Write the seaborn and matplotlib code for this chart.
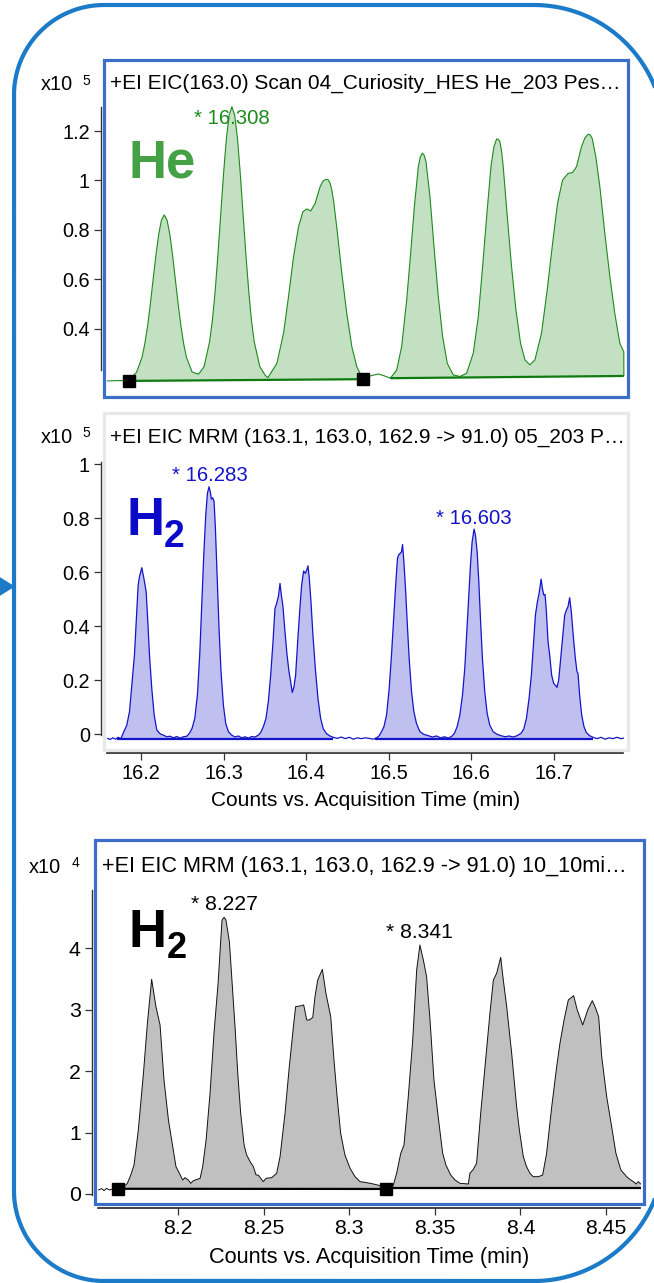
import numpy as np
import matplotlib
matplotlib.use("Agg")
import matplotlib.pyplot as plt
from matplotlib.patches import Rectangle, Polygon, PathPatch
from matplotlib.path import Path
import seaborn as sns

# ---------------- data ----------------
# panel 1: He carrier, EIC 163.0, counts x10^5
he_time = [16.157, 16.170, 16.180,
           16.1855, 16.1923, 16.199, 16.2024, 16.2058, 16.2091, 16.2125, 16.2159, 16.2193, 16.2226, 16.226,
           16.2294, 16.2328, 16.2361, 16.2395, 16.2429, 16.2463, 16.2496, 16.253, 16.2598,
           16.2675, 16.2743, 16.281, 16.2844, 16.2878, 16.2911, 16.2945, 16.2979, 16.3013, 16.3046, 16.308,
           16.3114, 16.3148, 16.3181, 16.3215, 16.3249, 16.3283, 16.3316, 16.335, 16.3418, 16.3485,
           16.3516, 16.3625, 16.3706, 16.3766, 16.3827, 16.3887, 16.3940, 16.3988, 16.4036, 16.4089, 16.4149,
           16.4185, 16.4222, 16.4246, 16.4270, 16.4290, 16.4311, 16.4359, 16.4412, 16.4472, 16.4533, 16.4593,
           16.4654, 16.4754, 16.4855, 16.4930,
           16.5000, 16.5077, 16.5137, 16.5198, 16.5246, 16.5291, 16.5339, 16.5363, 16.5388, 16.5410,
           16.5432, 16.5480, 16.5529, 16.5581, 16.5634, 16.5690, 16.5763, 16.5844,
           16.5924, 16.6005, 16.6066, 16.6118, 16.6167, 16.6219, 16.6254, 16.6288, 16.6310, 16.6328,
           16.6348, 16.6368, 16.6417, 16.6469, 16.6522, 16.6578, 16.6631, 16.6691,
           16.6752, 16.6832, 16.6901, 16.6966, 16.7026, 16.7087, 16.7155, 16.7208, 16.7256, 16.7317, 16.7357,
           16.7397, 16.7420, 16.7446, 16.7490, 16.7539, 16.7599, 16.7660, 16.7720, 16.7781, 16.7829, 16.7830]
he_counts = [0.190, 0.191, 0.192,
             0.202, 0.224, 0.285, 0.339, 0.411, 0.500, 0.599, 0.698, 0.783, 0.840, 0.861,
             0.840, 0.783, 0.698, 0.599, 0.500, 0.411, 0.339, 0.285, 0.226,
             0.217, 0.248, 0.349, 0.437, 0.557, 0.703, 0.866, 1.029, 1.169, 1.264, 1.298,
             1.264, 1.169, 1.029, 0.866, 0.703, 0.557, 0.437, 0.349, 0.248, 0.212,
             0.203, 0.261, 0.383, 0.531, 0.692, 0.813, 0.874, 0.885, 0.877, 0.908, 0.975,
             0.998, 1.005, 1.003, 0.989, 0.962, 0.921, 0.787, 0.625, 0.463, 0.329, 0.248,
             0.207, 0.210, 0.218, 0.210,
             0.201, 0.234, 0.329, 0.517, 0.706, 0.894, 1.056, 1.095, 1.110, 1.102,
             1.076, 0.935, 0.733, 0.531, 0.369, 0.261, 0.214, 0.208,
             0.221, 0.302, 0.450, 0.652, 0.854, 1.056, 1.135, 1.168, 1.166, 1.157,
             1.118, 1.056, 0.854, 0.652, 0.477, 0.342, 0.275, 0.255,
             0.275, 0.383, 0.558, 0.746, 0.908, 1.002, 1.029, 1.032, 1.056, 1.137, 1.172,
             1.187, 1.185, 1.170, 1.096, 0.975, 0.787, 0.612, 0.463, 0.342, 0.308, 0.210]
he_base_time = [16.1837, 16.4666, 16.5000, 16.7829]
he_base_counts = [0.190, 0.197, 0.201, 0.210]
he_marker_time = [16.1837, 16.4666]
he_marker_counts = [0.190, 0.197]
he_peak_time = [16.308]
he_peak_counts = [1.298]

# panel 2: H2 carrier, MRM 163 -> 91, counts x10^5
h2a_time = [16.1592, 16.1625, 16.1657, 16.1689, 16.1721, 16.1754, 16.1786, 16.1826, 16.1859, 16.1891,
            16.1919, 16.1944, 16.1964, 16.1980, 16.2008, 16.2032, 16.2061, 16.2081, 16.2101, 16.2129,
            16.2158, 16.2190, 16.2230, 16.2270, 16.2311, 16.2351, 16.2391, 16.2432, 16.2472, 16.2512,
            16.2553, 16.2585, 16.2617, 16.2650, 16.2682, 16.2710, 16.2734, 16.2759, 16.2783, 16.2803,
            16.2823, 16.2839, 16.2852, 16.2868, 16.2884, 16.2900, 16.2920, 16.2944, 16.2968, 16.2997,
            16.3025, 16.3057, 16.3098, 16.3138, 16.3178, 16.3219, 16.3259, 16.3300, 16.3340, 16.3380,
            16.3420, 16.3449, 16.3481, 16.3513, 16.3541, 16.3570, 16.3598, 16.3622, 16.3642, 16.3663,
            16.3683, 16.3699, 16.3719, 16.3743, 16.3768, 16.3792, 16.3812, 16.3832, 16.3852, 16.3872,
            16.3897, 16.3921, 16.3945, 16.3969, 16.3990, 16.4006, 16.4022, 16.4038, 16.4058, 16.4082,
            16.4111, 16.4143, 16.4175, 16.4208, 16.4248, 16.4288, 16.4328, 16.4377, 16.4426, 16.4474,
            16.4522, 16.4571, 16.4619, 16.4667, 16.4716, 16.4764, 16.4812, 16.4853, 16.4885, 16.4913,
            16.4942, 16.4974, 16.5006, 16.5034, 16.5063, 16.5087, 16.5107, 16.5123, 16.5139, 16.5155,
            16.5168, 16.5184, 16.5204, 16.5224, 16.5248, 16.5277, 16.5305, 16.5337, 16.5378, 16.5426,
            16.5478, 16.5531, 16.5579, 16.5628, 16.5676, 16.5724, 16.5765, 16.5797, 16.5829, 16.5862,
            16.5894, 16.5922, 16.5946, 16.5971, 16.5991, 16.6011, 16.6035, 16.6051, 16.6072, 16.6092,
            16.6112, 16.6136, 16.6164, 16.6193, 16.6225, 16.6265, 16.6314, 16.6362, 16.6411, 16.6459,
            16.6507, 16.6556, 16.6604, 16.6637, 16.6669, 16.6701, 16.6729, 16.6753, 16.6778, 16.6802,
            16.6826, 16.6847, 16.6863, 16.6879, 16.6895, 16.6911, 16.6931, 16.6951, 16.6975, 16.6999,
            16.7020, 16.7040, 16.7060, 16.7084, 16.7109, 16.7133, 16.7153, 16.7173, 16.7193, 16.7213,
            16.7238, 16.7262, 16.7282, 16.7294, 16.7314, 16.7339, 16.7367, 16.7395, 16.7435, 16.7476,
            16.7524, 16.7573, 16.7621, 16.7670, 16.7718, 16.7767, 16.7815, 16.7847]
h2a_counts = [-0.016, -0.020, -0.014, -0.019, -0.012, -0.017, 0.006, 0.033, 0.083, 0.194,
              0.293, 0.441, 0.552, 0.583, 0.616, 0.579, 0.527, 0.416, 0.293, 0.169,
              0.070, 0.015, 0.001, -0.004, -0.010, -0.008, -0.014, -0.009, -0.015, -0.010,
              -0.008, 0.003, 0.021, 0.058, 0.145, 0.293, 0.478, 0.663, 0.811, 0.891,
              0.916, 0.895, 0.870, 0.875, 0.861, 0.762, 0.589, 0.391, 0.231, 0.107,
              0.040, 0.009, -0.004, -0.011, -0.007, -0.014, -0.010, -0.015, -0.009, -0.011,
              -0.004, 0.006, 0.027, 0.058, 0.120, 0.218, 0.342, 0.465, 0.484, 0.509,
              0.558, 0.515, 0.472, 0.379, 0.293, 0.231, 0.194, 0.154, 0.175, 0.218,
              0.342, 0.453, 0.552, 0.604, 0.595, 0.607, 0.623, 0.577, 0.490, 0.367,
              0.243, 0.132, 0.058, 0.019, 0.001, -0.007, -0.012, -0.016, -0.011, -0.017,
              -0.012, -0.019, -0.014, -0.017, -0.014, -0.016, -0.019, -0.014, -0.006, 0.009,
              0.027, 0.070, 0.169, 0.293, 0.441, 0.564, 0.651, 0.665, 0.669, 0.675,
              0.702, 0.638, 0.539, 0.416, 0.280, 0.157, 0.083, 0.039, 0.009, -0.001,
              -0.006, -0.011, -0.007, -0.014, -0.010, -0.015, -0.008, 0.003, 0.027, 0.070,
              0.144, 0.243, 0.379, 0.515, 0.626, 0.712, 0.759, 0.737, 0.675, 0.564,
              0.428, 0.280, 0.157, 0.077, 0.033, 0.009, -0.001, -0.006, -0.010, -0.007,
              -0.011, -0.006, 0.003, 0.019, 0.058, 0.132, 0.218, 0.330, 0.441, 0.490,
              0.527, 0.574, 0.539, 0.515, 0.517, 0.453, 0.342, 0.293, 0.218, 0.188,
              0.181, 0.173, 0.200, 0.280, 0.367, 0.441, 0.459, 0.472, 0.505, 0.453,
              0.360, 0.280, 0.231, 0.225, 0.144, 0.070, 0.027, 0.006, -0.006, -0.012,
              -0.017, -0.012, -0.019, -0.014, -0.017, -0.012, -0.017, -0.015]
h2a_base_time = [16.1705, 16.4328, 16.4833, 16.7476]
h2a_base_counts = [-0.018, -0.018, -0.018, -0.018]
h2a_peak_time = [16.283, 16.603]
h2a_peak_counts = [0.916, 0.759]

# panel 3: H2 carrier, 10 min method, counts x10^4
h2b_time = [8.1535, 8.1554, 8.1568, 8.1583, 8.1599, 8.1613, 8.1632, 8.1652, 8.1681, 8.1704,
            8.1724, 8.1743, 8.1768, 8.1798, 8.1821, 8.1846, 8.1871, 8.1895, 8.1918, 8.1944,
            8.1969, 8.1988, 8.2008, 8.2027, 8.2041, 8.2060, 8.2074, 8.2090, 8.2113, 8.2129,
            8.2144, 8.2164, 8.2187, 8.2210, 8.2234, 8.2257, 8.2269, 8.2280, 8.2300, 8.2315,
            8.2333, 8.2349, 8.2366, 8.2386, 8.2401, 8.2421, 8.2440, 8.2456, 8.2469, 8.2483,
            8.2498, 8.2514, 8.2547, 8.2576, 8.2596, 8.2625, 8.2650, 8.2674, 8.2687, 8.2713,
            8.2734, 8.2752, 8.2767, 8.2787, 8.2800, 8.2816, 8.2843, 8.2864, 8.2892, 8.2911,
            8.2931, 8.2950, 8.2975, 8.3005, 8.3034, 8.3063, 8.3102, 8.3141, 8.3180, 8.3215,
            8.3238, 8.3258, 8.3277, 8.3301, 8.3320, 8.3345, 8.3371, 8.3394, 8.3413, 8.3433,
            8.3452, 8.3472, 8.3495, 8.3522, 8.3546, 8.3565, 8.3593, 8.3618, 8.3647, 8.3696,
            8.3705, 8.3725, 8.3744, 8.3768, 8.3793, 8.3822, 8.3842, 8.3861, 8.3885, 8.3900,
            8.3920, 8.3949, 8.3978, 8.3994, 8.4017, 8.4036, 8.4056, 8.4075, 8.4105, 8.4130,
            8.4153, 8.4183, 8.4212, 8.4231, 8.4255, 8.4280, 8.4311, 8.4332, 8.4364, 8.4393,
            8.4420, 8.4436, 8.4457, 8.4475, 8.4504, 8.4533, 8.4558, 8.4587, 8.4621, 8.4644,
            8.4660, 8.4675, 8.4689, 8.4702]
h2b_counts = [0.065, 0.087, 0.054, 0.092, 0.065, 0.076, 0.092, 0.098, 0.109, 0.174,
              0.309, 0.472, 1.042, 1.965, 2.780, 3.496, 3.051, 2.752, 1.857, 1.205,
              0.771, 0.445, 0.337, 0.228, 0.266, 0.228, 0.174, 0.217, 0.239, 0.255,
              0.445, 0.880, 1.640, 2.617, 3.431, 4.463, 4.506, 4.463, 4.110, 3.485,
              2.725, 1.965, 1.314, 0.798, 0.635, 0.527, 0.445, 0.309, 0.309, 0.255,
              0.201, 0.255, 0.266, 0.337, 0.608, 1.314, 2.074, 2.725, 3.051, 3.062,
              3.078, 2.834, 2.834, 2.877, 3.214, 3.485, 3.659, 3.268, 2.888, 2.182,
              1.531, 0.988, 0.635, 0.418, 0.282, 0.201, 0.185, 0.163, 0.136, 0.109,
              0.120, 0.147, 0.337, 0.662, 0.798, 1.585, 2.508, 3.648, 4.055, 3.811,
              3.540, 2.834, 1.857, 1.205, 0.662, 0.472, 0.309, 0.228, 0.174, 0.163,
              0.337, 0.402, 0.500, 1.314, 2.074, 2.942, 3.485, 3.594, 3.854, 3.485,
              3.051, 2.291, 1.422, 1.042, 0.608, 0.445, 0.337, 0.282, 0.282, 0.309,
              0.662, 1.422, 2.074, 2.454, 2.834, 3.160, 3.230, 2.997, 2.752, 2.997,
              3.149, 3.051, 2.888, 2.237, 1.585, 1.097, 0.662, 0.391, 0.282, 0.228,
              0.201, 0.163, 0.201, 0.163]
h2b_base_time = [8.1650, 8.3215, 8.3215, 8.4702]
h2b_base_counts = [0.085, 0.082, 0.100, 0.100]
h2b_marker_time = [8.1650, 8.3215]
h2b_marker_counts = [0.085, 0.085]
h2b_peak_time = [8.227, 8.341]
h2b_peak_counts = [4.506, 4.055]

titles = ["+EI EIC(163.0) Scan 04_Curiosity_HES He_203 Pes\u2026",
          "+EI EIC MRM (163.1, 163.0, 162.9 -> 91.0) 05_203 P\u2026",
          "+EI EIC MRM (163.1, 163.0, 162.9 -> 91.0) 10_10mi\u2026"]
xlabel = "Counts vs. Acquisition Time (min)"

# ---------------- figure ----------------
sns.set_theme(style="white")
plt.rcParams['font.family'] = ['Liberation Sans', 'DejaVu Sans']

W, H = 654, 1283
fig = plt.figure(figsize=(W / 100, H / 100), dpi=100)


def rect(x0, y0, x1, y1):
    return [x0 / W, 1 - y1 / H, (x1 - x0) / W, (y1 - y0) / H]


def ftext(x, y, s, **kw):
    fig.text(x / W, 1 - y / H, s, ha='left', va='baseline', **kw)


# background: big rounded frame (right side runs off the picture) + arrow
bg = fig.add_axes([0, 0, 1, 1])
bg.set_xlim(0, W)
bg.set_ylim(H, 0)
bg.axis('off')
L, T, R, B, rl, rr = 14, 5, 664, 1281, 90, 130


def arc(cx, cy, r, a0, a1):
    a = np.radians(np.linspace(a0, a1, 40))
    return np.c_[cx + r * np.cos(a), cy + r * np.sin(a)]


outline = np.vstack([arc(R - rr, T + rr, rr, -90, 0), arc(R - rr, B - rr, rr, 0, 90),
                     arc(L + rl, B - rl, rl, 90, 180), arc(L + rl, T + rl, rl, 180, 270)])
outline = np.vstack([outline, outline[:1]])
bg.add_patch(PathPatch(Path(outline), fill=False, ec='#1b7bc9', lw=3))
bg.add_patch(Polygon([(-2, 576), (15, 586.5), (-2, 597)], closed=True, fc='#1b7bc9', ec='none'))


def draw_trace(ax, t, c, bt, bc, line_col, fill_col, base_col, lw):
    t = np.asarray(t)
    c = np.asarray(c)
    for i in range(0, len(bt), 2):
        m = (t >= bt[i]) & (t <= bt[i + 1])
        xs = np.r_[bt[i], t[m], bt[i + 1]]
        ys = np.r_[bc[i], c[m], bc[i + 1]]
        ax.fill(xs, ys, color=fill_col, lw=0, zorder=1)
        ax.plot(bt[i:i + 2], bc[i:i + 2], color=base_col, lw=1.6, zorder=3, solid_capstyle='butt')
    sns.lineplot(x=t, y=c, sort=False, estimator=None, color=line_col, lw=lw, ax=ax, zorder=2)


def style(ax, xlim, ylim, box_col, yticks, ylabels, ybounds, fs, xticks=None, xlabels=None, xbounds=None,
          y_out=2.2, x_out=2.2):
    ax.set_xlim(xlim)
    ax.set_ylim(ylim)
    ax.set_facecolor('white')
    for s in ax.spines.values():
        s.set_visible(False)
    sp = ax.spines['left']
    sp.set_visible(True)
    sp.set_position(('outward', y_out))
    sp.set_bounds(*ybounds)
    sp.set_color('#333333')
    sp.set_linewidth(1.0)
    ax.set_yticks(yticks, ylabels)
    ax.tick_params(axis='y', left=True, direction='out', length=5, width=0.9, color='#333333',
                   pad=3, labelsize=fs, labelcolor='black')
    if xticks is None:
        ax.set_xticks([])
    else:
        sb = ax.spines['bottom']
        sb.set_visible(True)
        sb.set_position(('outward', x_out))
        sb.set_bounds(*xbounds)
        sb.set_color('#222222')
        sb.set_linewidth(1.2)
        ax.set_xticks(xticks, xlabels)
        ax.tick_params(axis='x', bottom=True, direction='out', length=5, width=0.9, color='#333333',
                       pad=3, labelsize=fs, labelcolor='black')
    ax.set_ylabel('')
    ax.set_xlabel('')
    ax.add_patch(Rectangle((0, 0), 1, 1, transform=ax.transAxes, fill=False, ec=box_col, lw=2.3,
                           clip_on=False, zorder=6))


# ---- panel 1 : He ----
ax1 = fig.add_axes(rect(104, 60, 628, 397))
draw_trace(ax1, he_time, he_counts, he_base_time, he_base_counts,
           '#1d8a1d', '#c3e0c3', '#0f7a0f', 0.8)
ax1.plot(he_marker_time, he_marker_counts, 's', color='black', ms=8, zorder=7, clip_on=False)
style(ax1, (16.153, 16.788), (0.125, 1.487), '#3b6ec8',
      [0.4, 0.6, 0.8, 1.0, 1.2], ['0.4', '0.6', '0.8', '1', '1.2'], (0.234, 1.297), 14.3)
for pt, pc in zip(he_peak_time, he_peak_counts):
    ax1.annotate(f"* {pt:.3f}", (pt, pc), xytext=(0, -12.2), textcoords='offset points',
                 ha='center', va='baseline', fontsize=14.7, color='#1d8a1d', zorder=8)

# ---- panel 2 : H2 ----
ax2 = fig.add_axes(rect(104, 413, 628, 750))
draw_trace(ax2, h2a_time, h2a_counts, h2a_base_time, h2a_base_counts,
           '#1414c8', '#bfc0f0', '#1414c8', 0.9)
style(ax2, (16.155, 16.790), (-0.059, 1.189), '#e8e8e8',
      [0, 0.2, 0.4, 0.6, 0.8, 1.0], ['0', '0.2', '0.4', '0.6', '0.8', '1'], (-0.004, 1.007), 14.3,
      xticks=[16.2, 16.3, 16.4, 16.5, 16.6, 16.7],
      xlabels=['16.2', '16.3', '16.4', '16.5', '16.6', '16.7'], xbounds=(16.159, 16.784))
ax2.set_xlabel(xlabel, fontsize=15, labelpad=5.5, color='black')
for pt, pc in zip(h2a_peak_time, h2a_peak_counts):
    ax2.annotate(f"* {pt:.3f}", (pt, pc), xytext=(0, 4.0), textcoords='offset points',
                 ha='center', va='baseline', fontsize=14.7, color='#1414c8', zorder=8)

# ---- panel 3 : H2, 10 min ----
ax3 = fig.add_axes(rect(95, 840, 644, 1204))
draw_trace(ax3, h2b_time, h2b_counts, h2b_base_time, h2b_base_counts,
           '#111111', '#c0c0c0', '#000000', 0.7)
ax3.plot(h2b_marker_time, h2b_marker_counts, 's', color='black', ms=8, zorder=7, clip_on=False)
style(ax3, (8.1515, 8.4722), (-0.163, 5.765), '#3b6ec8',
      [0, 1, 2, 3, 4], ['0', '1', '2', '3', '4'], (-0.016, 4.95), 15.3,
      xticks=[8.2, 8.25, 8.3, 8.35, 8.4, 8.45],
      xlabels=['8.2', '8.25', '8.3', '8.35', '8.4', '8.45'], xbounds=(8.1533, 8.4699), x_out=2.9)
ax3.set_xlabel(xlabel, fontsize=15.7, labelpad=6.5, color='black')
for pt, pc in zip(h2b_peak_time, h2b_peak_counts):
    ax3.annotate(f"* {pt:.3f}", (pt, pc), xytext=(0, 5.0), textcoords='offset points',
                 ha='center', va='baseline', fontsize=15.2, color='black', zorder=8)

# ---- titles, exponent labels, gas labels ----
ftext(110, 89, titles[0], fontsize=15, color='black')
ftext(110, 443, titles[1], fontsize=15, color='black')
ftext(102, 872, titles[2], fontsize=15.6, color='black')

for (x, y, xe, ye, e) in [(41, 90, 82, 85, '5'), (41, 443, 82, 437, '5'), (29, 873, 72, 867, '4')]:
    ftext(x, y, 'x10', fontsize=14.3, color='black')
    ftext(xe, ye, e, fontsize=10, color='black')

ftext(129, 177, 'He', fontsize=38, fontweight='bold', color='#45a145')
narrow = ['Liberation Sans Narrow', 'Liberation Sans', 'DejaVu Sans']
ftext(127, 535, 'H', fontsize=38, fontweight='bold', color='#0a0ac8', family=narrow)
ftext(164, 547, '2', fontsize=27, fontweight='bold', color='#0a0ac8', family=narrow)
ftext(129, 947, 'H', fontsize=38, fontweight='bold', color='black', family=narrow)
ftext(167, 958, '2', fontsize=26, fontweight='bold', color='black', family=narrow)

fig.savefig('out.png', dpi=100)
